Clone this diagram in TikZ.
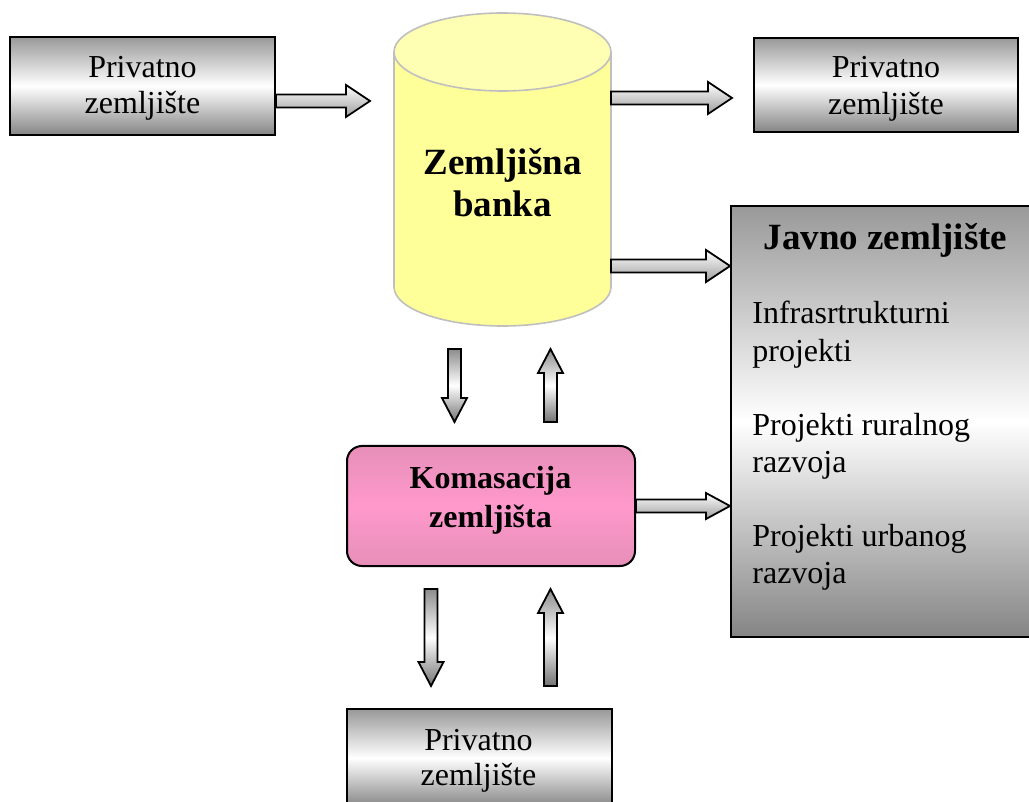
\documentclass[tikz,border=0pt]{standalone}
\usepackage{fontspec}
\setmainfont{Liberation Serif}
\usetikzlibrary{calc}
\definecolor{bankfill}{HTML}{FFFF99}
\definecolor{banktop}{HTML}{FFFFB3}
\definecolor{bankline}{HTML}{BFBFBF}
\definecolor{pinkedge}{HTML}{E68FB8}
\definecolor{pinkmid}{HTML}{FF99CC}

\tikzset{
  grey box/.style={draw=black, line width=1pt, top color=black!40, bottom color=black!48,
    middle color=white, inner sep=0pt},
  pink box/.style={draw=black, line width=1pt, rounded corners=7.5pt, top color=pinkedge,
    bottom color=pinkedge, middle color=pinkmid, inner sep=0pt},
  txt/.style={font=\fontsize{16}{16}\selectfont, inner sep=0pt, anchor=base},
  bodytxt/.style={font=\fontsize{16}{16}\selectfont, inner sep=0pt, anchor=base west},
  boldtxt/.style={font=\fontsize{16}{16}\selectfont\bfseries, inner sep=0pt, anchor=base},
  bigtxt/.style={font=\fontsize{18.5}{18.5}\selectfont\bfseries, inner sep=0pt, anchor=base},
  harrow/.style={draw=black, line width=0.9pt, top color=white, bottom color=black!38},
  varrow/.style={draw=black, line width=0.9pt, top color=black!45, bottom color=black!55,
    middle color=white},
}

% block arrow: #1 style, #2 head half-width, #3 tail point, #4 tip point
\newcommand\blockarr[4]{%
  \coordinate (ba-h) at ($(#4)!12pt!(#3)$);
  \path[#1] ($(#3)!3.25pt!90:(#4)$) -- ($(ba-h)!3.25pt!-90:(#3)$)
    -- ($(ba-h)!#2!-90:(#3)$) -- (#4) -- ($(ba-h)!#2!90:(#3)$)
    -- ($(ba-h)!3.25pt!90:(#3)$) -- ($(#3)!3.25pt!-90:(#4)$) -- cycle;
}

\begin{document}
\begin{tikzpicture}[x=0.5pt, y=-0.5pt]
\useasboundingbox (0,0) rectangle (1029,802);

% land bank cylinder
\path[fill=bankfill, draw=bankline, line width=0.8pt]
  (394,52) -- (394,287) arc[start angle=180, end angle=360, x radius=54.25pt, y radius=19.5pt]
  -- (611,52);
\path[fill=banktop, draw=bankline, line width=0.8pt]
  (502.5,52) ellipse[x radius=54.25pt, y radius=19.5pt];
\node[bigtxt] (bank1) at (502.5,175) {Zemljišna};
\node[bigtxt] (bank2) at (502.5,217) {banka};

% boxes
\node[grey box, minimum width=132.5pt, minimum height=49pt] (ptl) at (142.5,86) {};
\node[grey box, minimum width=132pt, minimum height=47pt] (ptr) at (886,85) {};
\node[grey box, minimum width=132.5pt, minimum height=49pt] (pbot) at (479.5,758) {};
\node[grey box, minimum width=152.5pt, minimum height=215.5pt] (javno) at (883.5,421.5) {};
\node[pink box, minimum width=144pt, minimum height=60pt] (kom) at (491,506) {};

% box texts
\node[txt] (ptl1) at (142.5,78) {Privatno};
\node[txt] (ptl2) at (142.5,114) {zemljište};
\node[txt] (ptr1) at (886,78) {Privatno};
\node[txt] (ptr2) at (886,115) {zemljište};
\node[txt] (pbot1) at (478.5,750) {Privatno};
\node[txt] (pbot2) at (478.5,785) {zemljište};
\node[boldtxt] (kom1) at (490.5,488) {Komasacija};
\node[boldtxt] (kom2) at (490.5,527) {zemljišta};
\node[bigtxt] (jz) at (885.5,250) {Javno zemljište};
\node[bodytxt] (j1) at (752,324) {Infrasrtrukturni};
\node[bodytxt] (j2) at (752,362) {projekti};
\node[bodytxt] (j3) at (752,436) {Projekti ruralnog};
\node[bodytxt] (j4) at (752,473) {razvoja};
\node[bodytxt] (j5) at (752,546) {Projekti urbanog};
\node[bodytxt] (j6) at (752,583) {razvoja};

% arrow end points
\coordinate (t1) at (370,101);
\coordinate (s1) at (ptl.east |- t1);
\coordinate (s2) at (611,98);
\coordinate (t2) at (732,98);
\coordinate (s3) at (611,266);
\coordinate (t3) at (javno.west |- s3);
\coordinate (s4) at (kom.east);
\coordinate (t4) at (javno.west |- s4);
\coordinate (s5) at (454.5,349);
\coordinate (t5) at (454.5,422);
\coordinate (s6) at (550.5,422);
\coordinate (t6) at (550.5,349);
\coordinate (s7) at (431,589);
\coordinate (t7) at (431,686);
\coordinate (s8) at (550.5,686);
\coordinate (t8) at (550.5,589);

% arrows
\blockarr{harrow}{8pt}{s1}{t1}
\blockarr{harrow}{8pt}{s2}{t2}
\blockarr{harrow}{8pt}{s3}{t3}
\blockarr{harrow}{6.5pt}{s4}{t4}
\blockarr{varrow}{6.25pt}{s5}{t5}
\blockarr{varrow}{6.25pt}{s6}{t6}
\blockarr{varrow}{6.25pt}{s7}{t7}
\blockarr{varrow}{6.25pt}{s8}{t8}
\end{tikzpicture}
\end{document}
